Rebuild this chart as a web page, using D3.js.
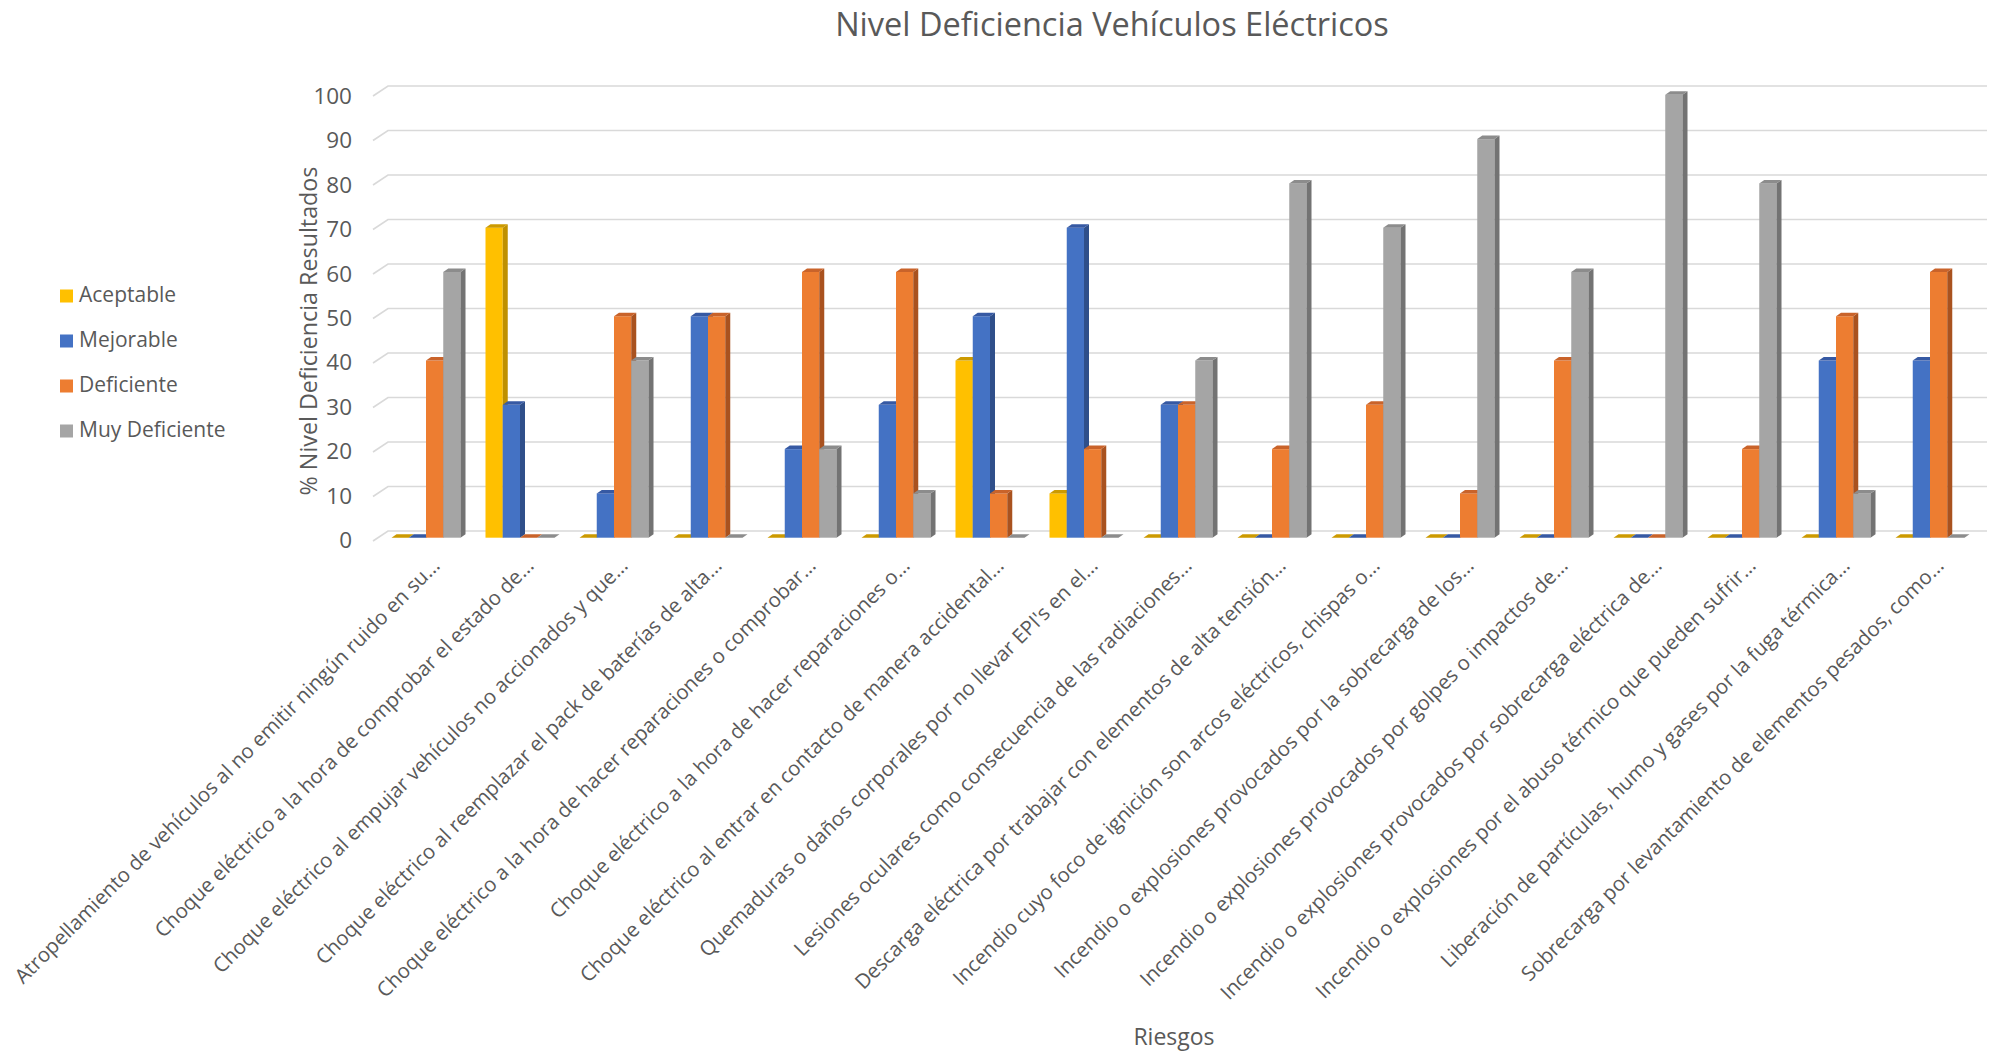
<!DOCTYPE html>
<html>
<head>
<meta charset="utf-8">
<script src="https://cdn.jsdelivr.net/npm/d3@7"></script>
<style>
  html, body { margin: 0; padding: 0; background: #ffffff; }
  svg { display: block; }
  text { font-family: "Open Sans", "Noto Sans", sans-serif; fill: #595959; }
</style>
</head>
<body>
<svg id="chart" width="1995" height="1053"></svg>
<script>
// Risk categories (x axis)
const categories = [
  "Atropellamiento de vehículos al no emitir ningún ruido en su...",
  "Choque eléctrico a la hora de comprobar el estado de...",
  "Choque eléctrico al empujar vehículos no accionados y que...",
  "Choque eléctrico al reemplazar el pack de baterías de alta...",
  "Choque eléctrico a la hora de hacer reparaciones o comprobar...",
  "Choque eléctrico a la hora de hacer reparaciones o...",
  "Choque eléctrico al entrar en contacto de manera accidental...",
  "Quemaduras o daños corporales por no llevar EPI's en el...",
  "Lesiones oculares como consecuencia de las radiaciones...",
  "Descarga eléctrica por trabajar con elementos de alta tensión...",
  "Incendio cuyo foco de ignición son arcos eléctricos, chispas o...",
  "Incendio o explosiones provocados por la sobrecarga de los...",
  "Incendio o explosiones provocados por golpes o impactos de...",
  "Incendio o explosiones provocados por sobrecarga eléctrica de...",
  "Incendio o explosiones por el abuso térmico que pueden sufrir...",
  "Liberación de partículas, humo y gases por la fuga térmica...",
  "Sobrecarga por levantamiento de elementos pesados, como..."
];

// Series names
const seriesNames = ["Aceptable", "Mejorable", "Deficiente", "Muy Deficiente"];

// Percentages per series, one value per category
const aceptable     = [0, 70, 0, 0, 0, 0, 40, 10, 0, 0, 0, 0, 0, 0, 0, 0, 0];
const mejorable     = [0, 30, 10, 50, 20, 30, 50, 70, 30, 0, 0, 0, 0, 0, 0, 40, 40];
const deficiente    = [40, 0, 50, 50, 60, 60, 10, 20, 30, 20, 30, 10, 40, 0, 20, 50, 60];
const muyDeficiente = [60, 0, 40, 0, 20, 10, 0, 0, 40, 80, 70, 90, 60, 100, 80, 10, 0];

// Y axis ticks
const yTicks = [0, 10, 20, 30, 40, 50, 60, 70, 80, 90, 100];

const seriesValues = [aceptable, mejorable, deficiente, muyDeficiente];

// Face colours for each series: front, top, side
const faceColors = [
  { front: "#FFC000", top: "#CC9A00", side: "#BF9000" },
  { front: "#4472C4", top: "#3659A3", side: "#2F4F8A" },
  { front: "#ED7D31", top: "#C9632A", side: "#A9521F" },
  { front: "#A5A5A5", top: "#8C8C8C", side: "#737373" }
];

const svg = d3.select("#chart");

// Scales
const x0 = d3.scaleBand().domain(categories).range([379, 1977]).padding(0);
const x1 = d3.scaleBand().domain(seriesNames).range([12.5, 81.5]).padding(0);
const yBar = d3.scaleLinear().domain([0, 100]).range([537.7, 94.8]);   // front faces
const yWall = d3.scaleLinear().domain([0, 100]).range([531, 86]);      // back wall gridlines
const yLabel = d3.scaleLinear().domain([0, 100]).range([542, 98]);     // tick labels

const depthX = 5, depthY = -3.5;
const wallLeft = 388, wallRight = 1987;

// Back wall gridlines with the short side-wall segment on the left
const grid = svg.append("g");
yTicks.forEach(t => {
  const y = yWall(t);
  grid.append("path")
    .attr("d", `M${wallLeft - 15},${y + 10}L${wallLeft},${y}L${wallRight},${y}`)
    .attr("fill", "none")
    .attr("stroke", "#D9D9D9")
    .attr("stroke-width", 1.6);
});

// Y tick labels
svg.append("g").selectAll("text")
  .data(yTicks)
  .join("text")
  .attr("x", 352)
  .attr("y", d => yLabel(d))
  .attr("text-anchor", "end")
  .attr("dominant-baseline", "middle")
  .attr("font-size", 22.5)
  .text(d => d);

// 3-D columns
const bars = svg.append("g");
categories.forEach((cat, ci) => {
  seriesNames.forEach((s, si) => {
    const v = seriesValues[si][ci];
    const x = x0(cat) + x1(s);
    const w = x1.bandwidth();
    const yt = yBar(v);
    const yb = yBar(0);
    const c = faceColors[si];
    const g = bars.append("g");
    if (v > 0) {
      g.append("rect")
        .attr("x", x).attr("y", yt)
        .attr("width", w).attr("height", yb - yt)
        .attr("fill", c.front);
      g.append("path")
        .attr("d", `M${x + w},${yt}L${x + w + depthX},${yt + depthY}L${x + w + depthX},${yb + depthY}L${x + w},${yb}Z`)
        .attr("fill", c.side);
    }
    g.append("path")
      .attr("d", `M${x},${yt}L${x + depthX},${yt + depthY}L${x + w + depthX},${yt + depthY}L${x + w},${yt}Z`)
      .attr("fill", c.top);
  });
});

// X axis labels, rotated
svg.append("g").selectAll("text")
  .data(categories)
  .join("text")
  .attr("text-anchor", "end")
  .attr("font-size", 20.4)
  .attr("transform", d => `translate(${x0(d) + x0.bandwidth() / 2 + 15},${567}) rotate(-45)`)
  .text(d => d);

// Title
svg.append("text")
  .attr("x", 1112).attr("y", 36)
  .attr("text-anchor", "middle")
  .attr("font-size", 32.5)
  .text("Nivel Deficiencia Vehículos Eléctricos");

// Y axis title
svg.append("text")
  .attr("transform", "translate(317,331) rotate(-90)")
  .attr("text-anchor", "middle")
  .attr("font-size", 23.3)
  .text("% Nivel Deficiencia Resultados");

// X axis title
svg.append("text")
  .attr("x", 1174).attr("y", 1045)
  .attr("text-anchor", "middle")
  .attr("font-size", 23)
  .text("Riesgos");

// Legend
const legend = svg.append("g");
seriesNames.forEach((s, i) => {
  const cy = 296 + i * 45;
  legend.append("rect")
    .attr("x", 60).attr("y", cy - 6.5)
    .attr("width", 13).attr("height", 13)
    .attr("fill", faceColors[i].front);
  legend.append("text")
    .attr("x", 79).attr("y", cy)
    .attr("dominant-baseline", "middle")
    .attr("font-size", 21)
    .text(s);
});
</script>
</body>
</html>
